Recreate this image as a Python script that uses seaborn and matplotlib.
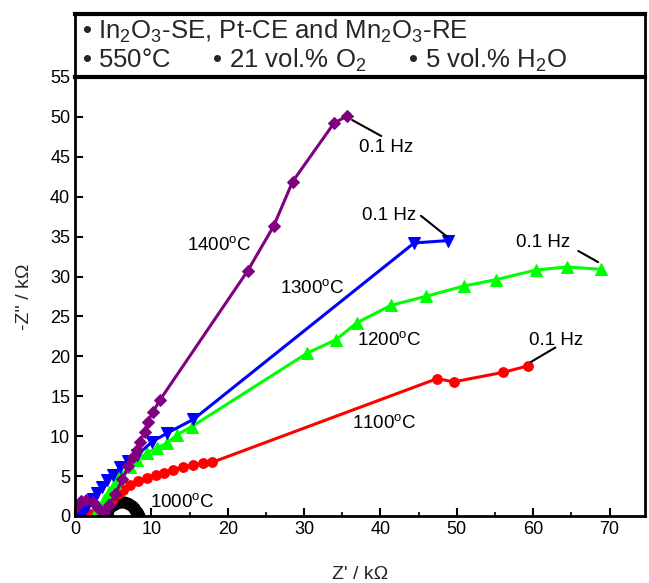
import matplotlib
matplotlib.use("Agg")
import matplotlib.pyplot as plt
import numpy as np
import seaborn as sns
from matplotlib.ticker import MultipleLocator

# 1000 C (black)
x_1000 = [3.8, 4.0, 4.3, 4.6, 5.0, 5.3, 5.7, 6.0, 6.4, 6.8, 7.1, 7.4, 7.7, 7.9, 8.1, 8.3, 8.4]
y_1000 = [0.1, 0.45, 0.8, 1.1, 1.4, 1.55, 1.7, 1.75, 1.75, 1.65, 1.5, 1.3, 1.0, 0.75, 0.5, 0.25, 0.05]
# 1400 C (purple)
x_1400 = [0.2, 0.8, 1.5, 2.3, 3.0, 3.8, 4.5, 5.3, 6.2, 7.0, 7.6, 8.1, 8.5, 9.1, 9.5, 10.2, 11.1, 22.6, 26.0, 28.5, 33.9, 35.6]
y_1400 = [1.2, 1.9, 2.0, 1.7, 1.0, 0.4, 1.4, 2.8, 4.6, 6.2, 7.4, 8.3, 9.3, 10.5, 11.8, 13.0, 14.5, 30.7, 36.3, 41.9, 49.2, 50.1]
# 1300 C (blue)
x_1300 = [0.6, 1.1, 1.6, 2.3, 2.9, 3.5, 4.2, 5.0, 5.9, 7.0, 8.1, 10.1, 12.1, 15.5, 44.4, 48.8]
y_1300 = [0.1, 0.5, 1.2, 2.1, 2.9, 3.6, 4.5, 5.1, 6.1, 6.9, 7.6, 9.3, 10.4, 12.1, 34.2, 34.5]
# 1200 C (green)
x_1200 = [2.6, 3.2, 3.8, 4.5, 5.2, 5.9, 7.2, 8.1, 9.4, 10.7, 12.0, 13.4, 15.3, 30.4, 34.2, 36.9, 41.4, 45.9, 50.9, 55.1, 60.3, 64.4, 68.9]
y_1200 = [0.3, 1.0, 2.0, 3.0, 4.1, 5.1, 6.1, 7.0, 7.9, 8.5, 9.1, 10.2, 11.2, 20.4, 22.1, 24.2, 26.4, 27.5, 28.8, 29.6, 30.8, 31.2, 30.9]
# 1100 C (red)
x_1100 = [1.0, 2.0, 3.0, 4.0, 4.8, 5.6, 6.3, 7.2, 8.2, 9.4, 10.6, 11.7, 12.8, 14.1, 15.4, 16.7, 17.9, 47.4, 49.6, 56.1, 59.3]
y_1100 = [0.1, 0.3, 0.7, 1.3, 2.0, 2.7, 3.3, 3.9, 4.4, 4.8, 5.1, 5.4, 5.8, 6.1, 6.4, 6.6, 6.7, 17.2, 16.8, 18.0, 18.8]

series = [
    (x_1000, y_1000, "#000000", "o", 8),
    (x_1100, y_1100, "#ff0000", "o", 7),
    (x_1200, y_1200, "#00ff00", "^", 8),
    (x_1300, y_1300, "#0000ff", "v", 8),
    (x_1400, y_1400, "#800080", "D", 6),
]

temp_labels = ["1400$^{\\mathrm{o}}$C", "1300$^{\\mathrm{o}}$C", "1200$^{\\mathrm{o}}$C",
               "1100$^{\\mathrm{o}}$C", "1000$^{\\mathrm{o}}$C"]
temp_pos = [(18.9, 34.0), (31.1, 28.6), (41.1, 22.1), (40.5, 11.7), (14.0, 1.75)]

hz_text = [(37.2, 46.1), (37.6, 37.6), (57.8, 34.2), (59.4, 22.0)]
hz_line = [((40.1, 47.6), (36.3, 49.6)), ((45.3, 37.6), (48.7, 35.0)),
           ((65.9, 33.2), (68.5, 31.8)), ((62.9, 21.1), (59.7, 19.3))]

sns.set_theme(style="ticks")
plt.rcParams["font.family"] = ["Liberation Sans", "DejaVu Sans"]
plt.rcParams["mathtext.fontset"] = "custom"
plt.rcParams["mathtext.rm"] = "Liberation Sans"
plt.rcParams["mathtext.it"] = "Liberation Sans"

fig = plt.figure(figsize=(6.49, 5.83), dpi=100)
ax = fig.add_axes([0.1156, 0.115, 0.879, 0.753])

for xs, ys, col, mk, ms in series:
    sns.lineplot(x=xs, y=ys, sort=False, estimator=None, color=col, marker=mk,
                 markersize=ms, markeredgecolor=col, linewidth=2.2, ax=ax)

for lab, (tx, ty) in zip(temp_labels, temp_pos):
    ax.text(tx, ty, lab, fontsize=13.5, ha="center", va="center", color="black")

for (tx, ty), (p0, p1) in zip(hz_text, hz_line):
    ax.text(tx, ty, "0.1 Hz", fontsize=13.5, ha="left", va="center", color="black")
    ax.plot([p0[0], p1[0]], [p0[1], p1[1]], color="black", linewidth=1.5)

ax.set_xlim(0, 74.7)
ax.set_ylim(0, 55)
ax.xaxis.set_major_locator(MultipleLocator(10))
ax.xaxis.set_minor_locator(MultipleLocator(5))
ax.yaxis.set_major_locator(MultipleLocator(5))
ax.tick_params(axis="both", which="major", direction="in", length=6, width=1.5, labelsize=13, colors="black")
ax.tick_params(axis="x", which="minor", direction="in", length=3, width=1.5)
ax.set_xlabel("Z' / k\u03a9", fontsize=14, labelpad=20)
ax.set_ylabel("-Z'' / k\u03a9", fontsize=14, labelpad=12)
for sp in ax.spines.values():
    sp.set_visible(True)
    sp.set_linewidth(2)
    sp.set_color("black")

# header box
hx = fig.add_axes([0.1156, 0.868, 0.879, 0.108])
hx.set_xticks([])
hx.set_yticks([])
for sp in hx.spines.values():
    sp.set_linewidth(2)
    sp.set_color("black")
hx.spines["top"].set_linewidth(3)
hx.spines["bottom"].set_linewidth(3)
hx.text(0.012, 0.72, "\u2022 In$_2$O$_3$-SE, Pt-CE and Mn$_2$O$_3$-RE", fontsize=18.5,
        ha="left", va="center", transform=hx.transAxes)
hx.text(0.012, 0.27, "\u2022 550\u00b0C      \u2022 21 vol.% O$_2$      \u2022 5 vol.% H$_2$O", fontsize=18.5,
        ha="left", va="center", transform=hx.transAxes)

fig.savefig("out.png", dpi=100)
